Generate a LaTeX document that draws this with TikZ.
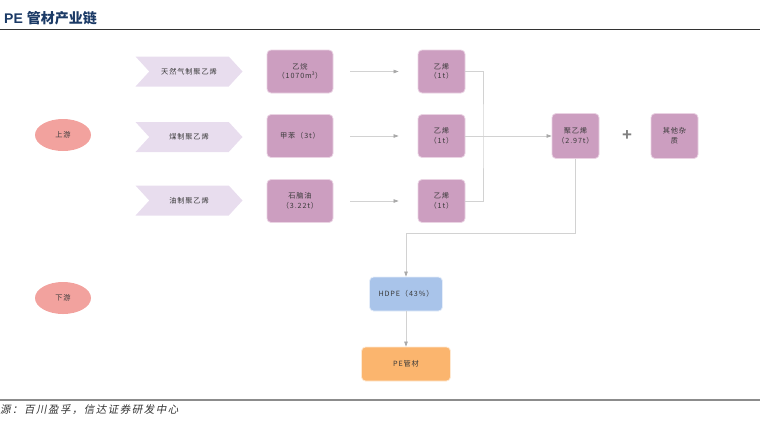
\documentclass[tikz,border=0pt]{standalone}
\usepackage{fontspec}
\newfontfamily\cjk{Noto Sans CJK SC}
\newfontfamily\cjksp[LetterSpace=12]{Noto Sans CJK SC}
\newfontfamily\cjkit[FakeSlant=0.2,LetterSpace=14]{Noto Sans CJK SC}
\setsansfont{Liberation Sans}
\usetikzlibrary{arrows.meta,shapes.symbols,shapes.geometric}
\definecolor{mauve}{HTML}{CC9EC0}
\definecolor{mauveedge}{HTML}{EAD3E3}
\definecolor{chev}{HTML}{E8DDEE}
\definecolor{salmon}{HTML}{F2A29E}
\definecolor{hdpe}{HTML}{A9C4EA}
\definecolor{orng}{HTML}{FBB56E}
\definecolor{txt}{HTML}{3A3A3A}
\definecolor{navy}{HTML}{1B3A66}
\definecolor{lgray}{HTML}{D2D2D2}
\definecolor{tipgray}{HTML}{A8A8A8}
\tikzset{
  txtfont/.style={font=\cjksp\fontsize{7.2}{9.5}\selectfont, text=txt},
  box/.style={draw=mauveedge, fill=mauve, rounded corners=4pt, line width=0.8pt, inner sep=0pt, align=center, txtfont},
  chevron/.style={shape=signal, signal from=west, signal to=east, signal pointer angle=95, fill=chev, draw=none, minimum width=107pt, minimum height=30pt, inner sep=0pt, txtfont},
  stream/.style={ellipse, fill=salmon, draw=none, minimum width=56pt, minimum height=32pt, inner sep=0pt, txtfont},
  ln/.style={draw=lgray, line width=0.6pt},
  arr/.style={ln, -{Triangle[length=5pt,width=3.5pt,fill=tipgray,color=tipgray]}},
}
\begin{document}
\begin{tikzpicture}[x=1pt,y=-1pt]
\useasboundingbox (0,0) rectangle (760,429);
% title and rules
\node[anchor=west, inner sep=0pt, text=navy, font=\cjk\bfseries\fontsize{14}{16}\selectfont] (title) at (4,18) {\sffamily\bfseries PE\ \cjk\bfseries 管材产业链};
\draw[line width=0.8pt, draw=black!80] (0,29.5) -- (760,29.5);
\draw[line width=1.2pt, draw=black!45] (0,400) -- (760,400);
\node[anchor=west, inner sep=0pt, text=black!80, font=\cjkit\fontsize{10.5}{12}\selectfont] (src) at (0,410) {源：百川盈孚，信达证券研发中心};
% stream ellipses
\node[stream] (up) at (63,135) {上游};
\node[stream] (down) at (63,298) {下游};
% chevrons
\node[chevron] (c1) at (189,71.5) {天然气制聚乙烯};
\node[chevron] (c2) at (189,137) {煤制聚乙烯};
\node[chevron] (c3) at (189,200.5) {油制聚乙烯};
% first column boxes
\node[box, minimum width=66pt, minimum height=43pt] (b1) at (300,71.5) {乙烷\\（1070m\textsuperscript{3}）};
\node[box, minimum width=66pt, minimum height=43pt] (b2) at (300,136) {甲苯（3t）};
\node[box, minimum width=66pt, minimum height=43pt] (b3) at (300,201) {石脑油\\（3.22t）};
% second column boxes
\node[box, minimum width=47pt, minimum height=43pt] (e1) at (441.5,71.5) {乙烯\\（1t）};
\node[box, minimum width=47pt, minimum height=43pt] (e2) at (441.5,136) {乙烯\\（1t）};
\node[box, minimum width=47pt, minimum height=43pt] (e3) at (441.5,201) {乙烯\\（1t）};
% polyethylene and impurities
\node[box, minimum width=47pt, minimum height=45pt] (pe) at (575.5,136) {聚乙烯\\（2.97t）};
\node[text=black!50, inner sep=0pt, font=\sffamily\bfseries\fontsize{17}{17}\selectfont] (plus) at (627,136) {+};
\node[box, minimum width=47pt, minimum height=45pt] (oth) at (674.5,136) {其他杂\\质};
% downstream boxes
\node[box, fill=hdpe, draw=white!70!hdpe, minimum width=73pt, minimum height=34pt] (hd) at (406,294) {HDPE（43\%）};
\node[box, fill=orng, draw=white!70!orng, minimum width=89pt, minimum height=34pt] (pm) at (406,364) {PE管材};
% connectors
\draw[arr, shorten <=17pt, shorten >=19pt] (b1.east) -- (e1.west);
\draw[arr, shorten <=17pt, shorten >=19pt] (b2.east) -- (e2.west);
\draw[arr, shorten <=17pt, shorten >=19pt] (b3.east) -- (e3.west);
\coordinate (j) at (483,136);
\draw[ln] (e1.east) -| (j) |- (e3.east);
\draw[arr] (e2.east) -- (pe.west);
\coordinate (k) at (406,233);
\draw[arr] (pe.south) |- (k) -- (hd.north);
\draw[arr] (hd.south) -- (pm.north);
\end{tikzpicture}
\end{document}
